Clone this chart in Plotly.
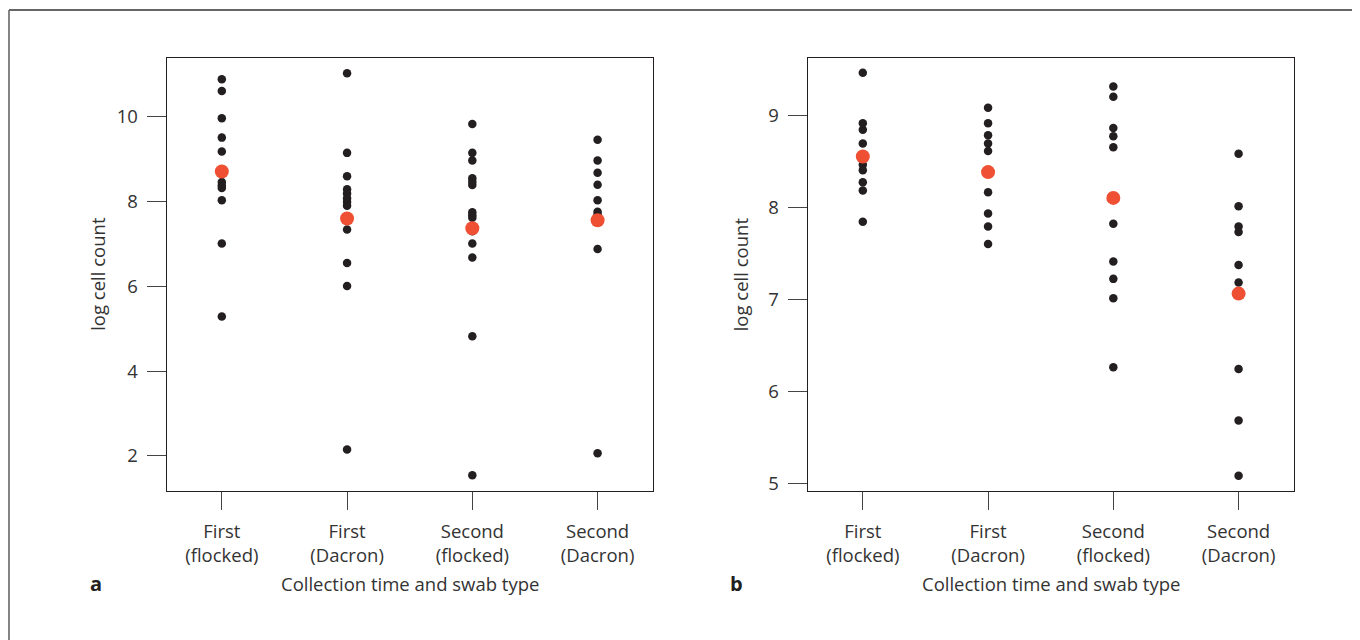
import plotly.graph_objects as go

categories = ["First<br>(flocked)", "First<br>(Dacron)", "Second<br>(flocked)", "Second<br>(Dacron)"]

# Panel a values (log cell count)
a_first_flocked = [10.89, 10.61, 9.97, 9.51, 9.18, 8.46, 8.38, 8.32, 8.03, 7.01, 5.29]
a_first_dacron = [11.03, 9.15, 8.60, 8.29, 8.19, 8.08, 7.99, 7.90, 7.34, 6.55, 6.01, 2.15]
a_second_flocked = [9.83, 9.15, 8.97, 8.55, 8.47, 8.39, 7.75, 7.68, 7.62, 7.30, 7.01, 6.68, 4.82, 1.54]
a_second_dacron = [9.46, 8.97, 8.68, 8.40, 8.03, 7.76, 7.70, 6.88, 2.06]
a_means = [8.71, 7.60, 7.37, 7.56]

# Panel b values
b_first_flocked = [9.46, 8.91, 8.84, 8.69, 8.46, 8.40, 8.27, 8.18, 7.84]
b_first_dacron = [9.08, 8.91, 8.78, 8.69, 8.61, 8.16, 7.93, 7.79, 7.60]
b_second_flocked = [9.31, 9.20, 8.86, 8.77, 8.65, 7.82, 7.41, 7.22, 7.01, 6.26]
b_second_dacron = [8.58, 8.01, 7.79, 7.73, 7.37, 7.18, 6.24, 5.68, 5.08]
b_means = [8.55, 8.38, 8.10, 7.06]

a_ticks = [2, 4, 6, 8, 10]
b_ticks = [5, 6, 7, 8, 9]

# page body has an 8px margin: figure is drawn at (8, 8)
OFF = 8
W, H = 1360 - OFF, 640 - OFF
FONT = "Open Sans"
FS = 18.5
TXT = "#333333"
BLACK = "#231f20"
RED = "#ef5033"

def px(x):
    return (x - OFF) / W

def py(y):
    return 1 - (y - OFF) / H

fig = go.Figure()

def add_panel(groups, means, xa, ya):
    for i, vals in enumerate(groups):
        fig.add_trace(go.Scatter(
            x=[i + 1] * len(vals), y=vals, mode="markers",
            marker=dict(size=8.5, color=BLACK, line=dict(width=0)),
            xaxis=xa, yaxis=ya, showlegend=False, hoverinfo="y"))
    fig.add_trace(go.Scatter(
        x=[1, 2, 3, 4], y=means, mode="markers",
        marker=dict(size=14, color=RED, line=dict(width=0)),
        xaxis=xa, yaxis=ya, showlegend=False, hoverinfo="y"))

add_panel([a_first_flocked, a_first_dacron, a_second_flocked, a_second_dacron], a_means, "x", "y")
add_panel([b_first_flocked, b_first_dacron, b_second_flocked, b_second_dacron], b_means, "x2", "y2")

ydom = [py(494), py(58.3)]
common_x = dict(range=[0.56, 4.44], tickvals=[1, 2, 3, 4], ticktext=categories,
                showline=True, mirror=True, linecolor=BLACK, linewidth=1.2,
                ticks="outside", ticklen=18, tickcolor="#444", tickwidth=1,
                ticklabelstandoff=6,
                tickfont=dict(family=FONT, size=FS, color=TXT),
                showgrid=False, zeroline=False, fixedrange=True)
common_y = dict(showline=True, mirror=True, linecolor=BLACK, linewidth=1.2,
                ticks="outside", ticklen=19, tickcolor="#444", tickwidth=1,
                ticklabelstandoff=5,
                tickfont=dict(family=FONT, size=FS, color=TXT),
                showgrid=False, zeroline=False, fixedrange=True)

fig.update_layout(
    width=W, height=H,
    margin=dict(l=0, r=0, t=0, b=0),
    paper_bgcolor="white", plot_bgcolor="white",
    font=dict(family=FONT, size=FS, color=TXT),
    xaxis=dict(domain=[px(166.7), px(652.7)], anchor="y", **common_x),
    yaxis=dict(domain=ydom, anchor="x", range=[1.17, 11.39], tickvals=a_ticks, **common_y),
    xaxis2=dict(domain=[px(807.7), px(1293.7)], anchor="y2", **common_x),
    yaxis2=dict(domain=ydom, anchor="x2", range=[4.916, 9.62], tickvals=b_ticks, **common_y),
)

ann = []
for cx, ylx, letter, lx in [(409.7, 97.5, "a", 88), (1050.7, 740, "b", 728)]:
    ann.append(dict(x=px(cx), y=py(586.7), xref="paper", yref="paper",
                    text="Collection time and swab type", showarrow=False,
                    xanchor="center", yanchor="middle",
                    font=dict(family=FONT, size=FS, color=TXT)))
    ann.append(dict(x=px(ylx), y=py(276), xref="paper", yref="paper",
                    text="log cell count", showarrow=False, textangle=-90,
                    xanchor="center", yanchor="middle",
                    font=dict(family=FONT, size=FS, color=TXT)))
    ann.append(dict(x=px(lx), y=py(586.7), xref="paper", yref="paper",
                    text="<b>" + letter + "</b>", showarrow=False,
                    xanchor="left", yanchor="middle",
                    font=dict(family=FONT, size=20, color="#231f20")))
fig.update_layout(annotations=ann)

# outer frame (top and left border lines)
fig.add_shape(type="line", xref="paper", yref="paper", x0=px(9), x1=1.01, y0=py(10), y1=py(10),
              line=dict(color="#666666", width=2))
fig.add_shape(type="line", xref="paper", yref="paper", x0=px(9), x1=px(9), y0=py(10), y1=-0.05,
              line=dict(color="#666666", width=1.6))

fig.write_html("out.html")
